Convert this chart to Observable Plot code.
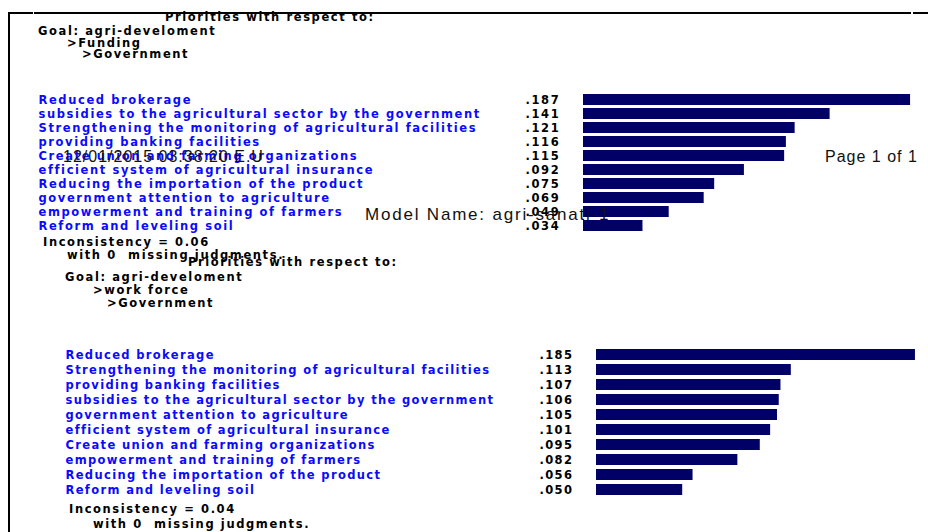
<!DOCTYPE html>
<html><head><meta charset="utf-8">
<script src="https://cdn.jsdelivr.net/npm/d3@7"></script>
<script src="https://cdn.jsdelivr.net/npm/@observablehq/plot@0.6"></script>
<style>
body{margin:0;background:#fff;}
#page{position:relative;width:928px;height:532px;overflow:hidden;background:#fff;}
.t{position:absolute;white-space:pre;font-family:"DejaVu Sans",Verdana,sans-serif;font-weight:bold;font-size:11.5px;letter-spacing:1.6px;color:#000;line-height:1;transform:translateY(-50%);}
.o{position:absolute;white-space:pre;font-family:"Liberation Sans",Arial,sans-serif;font-size:16px;letter-spacing:1px;color:#111;line-height:1;transform:translateY(-50%);}
.o.big{font-size:17px;letter-spacing:1.8px;}
.ln{position:absolute;background:#000;z-index:5;}
#page svg{position:absolute;left:0;top:0;background:transparent;}
</style>
</head><body>
<div id="page"></div>
<script>
// ---- data ----
const labels1 = ["Reduced brokerage","subsidies to the agricultural sector by the government","Strengthening the monitoring of agricultural facilities","providing banking facilities","Create union and farming organizations","efficient system of agricultural insurance","Reducing the importation of the product","government attention to agriculture","empowerment and training of farmers","Reform and leveling soil"];
const values1 = [0.187,0.141,0.121,0.116,0.115,0.092,0.075,0.069,0.049,0.034];
const labels2 = ["Reduced brokerage","Strengthening the monitoring of agricultural facilities","providing banking facilities","subsidies to the agricultural sector by the government","government attention to agriculture","efficient system of agricultural insurance","Create union and farming organizations","empowerment and training of farmers","Reducing the importation of the product","Reform and leveling soil"];
const values2 = [0.185,0.113,0.107,0.106,0.105,0.101,0.095,0.082,0.056,0.050];
const header1 = ["Priorities with respect to:","Goal: agri-develoment",">Funding",">Government"];
const header2 = ["Priorities with respect to:","Goal: agri-develoment",">work force",">Government"];
const footer1 = ["Inconsistency = 0.06","with 0  missing judgments."];
const footer2 = ["Inconsistency = 0.04","with 0  missing judgments."];
const overlay = ["12/01/2015 03:38:20 E.U","Page 1 of 1","Model Name: agri-sanati-1"];

const page = document.getElementById("page");
const fmt = v => d3.format(".3f")(v).replace(/^0/, "");
const BLUE = "#0a0aff", NAVY = "#000066";
const FONT = "DejaVu Sans, Verdana, sans-serif";

function panel(labels, values, o) {
  const data = labels.map((name, i) => ({name, value: values[i]}));
  return Plot.plot({
    width: 928, height: 532,
    marginTop: 0, marginBottom: 0, marginRight: 0, marginLeft: o.left,
    style: `background:transparent;letter-spacing:${o.ls}px;`,
    x: {domain: [0, 0.2], range: [o.barStart, o.barStart + 0.2 * o.pxPerUnit], axis: null},
    y: {domain: labels, range: o.yRange, padding: o.pad, axis: null},
    marks: [
      Plot.barX(data, {x: "value", y: "name", fill: NAVY}),
      Plot.text(data, {y: "name", text: "name", frameAnchor: "left", textAnchor: "start",
        fill: BLUE, fontWeight: "bold", fontSize: 11.5, fontFamily: FONT}),
      Plot.text(data, {y: "name", text: d => fmt(d.value), frameAnchor: "left", textAnchor: "start",
        dx: o.valueDx, fill: "#000", fontWeight: "bold", fontSize: 11.5, fontFamily: FONT})
    ]
  });
}

page.appendChild(panel(labels1, values1, {left: 38, barStart: 583, pxPerUnit: 1749, yRange: [90.3, 235.5], pad: 0.225, valueDx: 487, ls: 1.6}));
page.appendChild(panel(labels2, values2, {left: 65, barStart: 596, pxPerUnit: 1724, yRange: [342.2, 502.9], pad: 0.253, valueDx: 474, ls: 1.35}));

function addText(cls, txt, x, y) {
  const d = document.createElement("div");
  d.className = cls; d.textContent = txt;
  d.style.left = x + "px"; d.style.top = y + "px";
  page.appendChild(d);
}
const h1pos = [[165,18],[38,31.5],[67,43.5],[82,54.5]];
header1.forEach((t, i) => addText("t", t, h1pos[i][0], h1pos[i][1]));
const h2pos = [[188,263],[65,278],[93,291],[107,304]];
header2.forEach((t, i) => addText("t", t, h2pos[i][0], h2pos[i][1]));
const f1pos = [[43,242.5],[67,256]];
footer1.forEach((t, i) => addText("t", t, f1pos[i][0], f1pos[i][1]));
const f2pos = [[69,510],[93,525]];
footer2.forEach((t, i) => addText("t", t, f2pos[i][0], f2pos[i][1]));
const opos = [[63,157,"o"],[825,157,"o"],[365,214,"o big"]];
overlay.forEach((t, i) => addText(opos[i][2], t, opos[i][0], opos[i][1]));

function line(x, y, w, h, c) {
  const d = document.createElement("div");
  d.className = "ln";
  Object.assign(d.style, {left: x + "px", top: y + "px", width: w + "px", height: h + "px"});
  if (c) d.style.background = c;
  page.appendChild(d);
}
line(8, 12, 25, 2); line(34, 12, 877, 2); line(913, 12, 15, 2);
line(8, 12, 2, 520);
</script>
</body></html>
